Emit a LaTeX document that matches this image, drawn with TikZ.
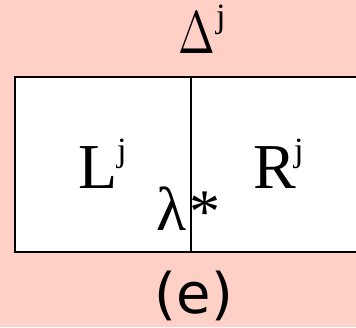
\documentclass[tikz,border=0pt]{standalone}
\usepackage{fontspec}
\newfontfamily\tms{Liberation Serif}
\newfontfamily\dvs{DejaVu Sans}
\definecolor{bgpink}{HTML}{FFD0C6}
\begin{document}
\begin{tikzpicture}[x=1pt,y=-1pt,
  lbl/.style={inner sep=0pt,outer sep=0pt,anchor=base west},
  big/.style={lbl,font=\tms\fontsize{64}{64}\selectfont},
  sup/.style={lbl,font=\tms\fontsize{34}{34}\selectfont},
  boxline/.style={line width=1.6pt,draw=black}]
\fill[bgpink] (0,0) rectangle (356,327);
\useasboundingbox (0,0) rectangle (356,327);
\coordinate (tl) at (15,77);
\coordinate (bl) at (15,252);
\coordinate (tr) at (360,77);
\coordinate (br) at (360,252);
\coordinate (mt) at (191,77);
\coordinate (mb) at (191,252);
\fill[white] (tl) rectangle (br);
\draw[boxline] (tr) -- (tl) -- (bl) -- (br);
\draw[boxline] (mt) -- (mb);
\node[lbl] (delta) at (178,53) {\scalebox{4.4}[6]{$\Delta$}};
\node[sup] (dj) at (216,27) {j};
\node[big] (L) at (78,188) {L};
\node[sup] (lj) at (117,161) {j};
\node[big] (R) at (253,188) {R};
\node[sup] (rj) at (294,161) {j};
\node[lbl,font=\tms\fontsize{62}{62}\selectfont] (lam) at (156,230) {λ};
\node[lbl,font=\tms\fontsize{62}{62}\selectfont] (ast) at (189,232) {*};
\node[inner sep=0pt,anchor=base,font=\dvs\fontsize{56}{56}\selectfont] (cap) at (194,313) {(e)};
\end{tikzpicture}
\end{document}
